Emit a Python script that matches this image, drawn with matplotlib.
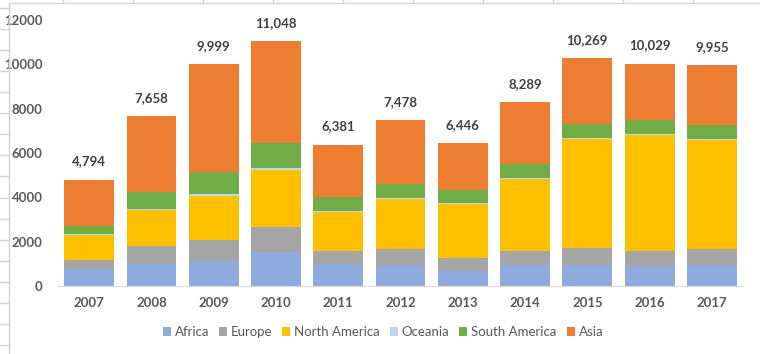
import numpy as np
import matplotlib
matplotlib.use("Agg")
import matplotlib.pyplot as plt
from matplotlib.lines import Line2D

plt.rcParams['font.family'] = ['Lato', 'DejaVu Sans']

years = ['2007', '2008', '2009', '2010', '2011', '2012',
         '2013', '2014', '2015', '2016', '2017']
africa = [770, 1000, 1130, 1550, 1000, 950, 680, 950, 950, 920, 950]
europe = [420, 810, 960, 1110, 575, 720, 600, 645, 780, 675, 720]
north_america = [1100, 1640, 1985, 2590, 1775, 2255, 2435, 3230, 4890, 5200, 4930]
oceania = [45, 45, 90, 90, 45, 45, 45, 60, 45, 45, 45]
south_america = [390, 750, 990, 1110, 615, 645, 585, 630, 660, 660, 630]
totals = [4794, 7658, 9999, 11048, 6381, 7478, 6446, 8289, 10269, 10029, 9955]
asia = [t - a - e - n - o - s for t, a, e, n, o, s in
        zip(totals, africa, europe, north_america, oceania, south_america)]

series = [
    ('Africa', africa, '#8FAADC'),
    ('Europe', europe, '#A5A5A5'),
    ('North America', north_america, '#FFC000'),
    ('Oceania', oceania, '#BDD7EE'),
    ('South America', south_america, '#70AD47'),
    ('Asia', asia, '#ED7D31'),
]

W, H = 760, 354
fig = plt.figure(figsize=(W / 100, H / 100), dpi=100)
fig.patch.set_facecolor('white')

# spreadsheet cells behind the chart
grid_c = '#d4d4d4'
for y in np.arange(8, 354, 21.06):
    fig.add_artist(Line2D([0, 9 / W], [1 - y / H, 1 - y / H], color=grid_c, lw=1))
for x in np.arange(63, 760, 70):
    fig.add_artist(Line2D([x / W, x / W], [1, 1 - 3 / H], color=grid_c, lw=1))
fig.add_artist(Line2D([9 / W, 9 / W], [0, 1 - 3 / H], color=grid_c, lw=1))
fig.add_artist(Line2D([9 / W, 1], [1 - 3 / H, 1 - 3 / H], color=grid_c, lw=1))

ax = fig.add_axes([58 / W, 1 - 286 / H, (743 - 58) / W, (286 - 20) / H])
x = np.arange(len(years))
bottom = np.zeros(len(years))
for name, vals, col in series:
    ax.bar(x, vals, 0.8, bottom=bottom, color=col, label=name, linewidth=0)
    bottom += np.array(vals)

for xi, t in zip(x, totals):
    ax.annotate(f'{t:,}', (xi, t), xytext=(0, 9), textcoords='offset points',
                ha='center', va='bottom', fontsize=9.5, fontweight='bold',
                color='#404040')

ax.set_xlim(-0.5, len(years) - 0.5)
ax.set_ylim(0, 12000)
ax.set_yticks(range(0, 12001, 2000))
ax.set_xticks(x)
ax.set_xticklabels(years)
for s in ['top', 'right', 'left']:
    ax.spines[s].set_visible(False)
ax.spines['bottom'].set_color('#d9d9d9')
ax.tick_params(axis='both', length=0, labelsize=9.5, labelcolor='#595959')
ax.tick_params(axis='y', pad=11)
ax.tick_params(axis='x', pad=8)
for lab in ax.get_xticklabels() + ax.get_yticklabels():
    lab.set_fontweight('bold')

fig.legend(loc='center', bbox_to_anchor=(383 / W, 1 - 332 / H), ncol=6,
           frameon=False, fontsize=9.5, labelcolor='#595959',
           handlelength=0.6, handleheight=0.6, handletextpad=0.3,
           columnspacing=0.75)

fig.savefig('out.png', dpi=100)
